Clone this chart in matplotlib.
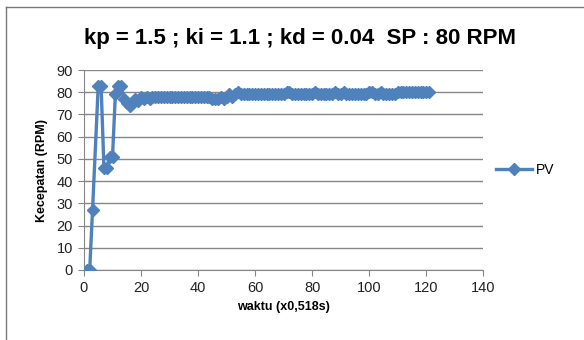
import matplotlib
matplotlib.use("Agg")
import matplotlib.pyplot as plt
from matplotlib.lines import Line2D

plt.rcParams["font.family"] = ["Liberation Sans", "DejaVu Sans"]

# waktu (sampel) dan kecepatan PV (RPM)
waktu = [1, 2, 3] + list(range(5, 122))
pv = [
    0, 0, 27, 83, 83, 46, 46, 51, 51, 79,
    83, 83, 77, 75, 74, 75, 77, 76, 78, 77,
    78, 77, 78, 78, 78, 78, 78, 78, 78, 78,
    78, 78, 78, 78, 78, 78, 78, 78, 78, 78,
    78, 78, 78, 77, 77, 77, 78, 77, 78, 79,
    78, 79, 80, 79, 79, 79, 79, 79, 79, 79,
    79, 79, 79, 79, 79, 79, 79, 79, 79, 80,
    80, 79, 79, 79, 79, 79, 79, 79, 79, 80,
    79, 79, 79, 79, 79, 79, 80, 79, 79, 80,
    79, 79, 79, 79, 79, 79, 79, 79, 80, 80,
    79, 79, 80, 79, 79, 79, 79, 79, 80, 80,
    80, 80, 80, 80, 80, 80, 80, 80, 80, 80,
]

judul = "kp = 1.5 ; ki = 1.1 ; kd = 0.04  SP : 80 RPM"
biru = "#4F81BD"
abu = "#868686"

fig = plt.figure(figsize=(5.84, 3.40), dpi=100)
ax = fig.add_axes([0.1438, 0.2059, 0.6838, 0.5882])

ax.plot(waktu, pv, color=biru, lw=2.4, marker="D", ms=6.5,
        mec=biru, mfc=biru, label="PV", zorder=3)

ax.set_xlim(0, 140)
ax.set_ylim(0, 90)
ax.set_xticks(range(0, 141, 20))
ax.set_yticks(range(0, 91, 10))
ax.grid(axis="y", color=abu, lw=1)
ax.set_axisbelow(True)
for s in ["top", "right"]:
    ax.spines[s].set_visible(False)
for s in ["left", "bottom"]:
    ax.spines[s].set_color(abu)
ax.tick_params(direction="out", length=4, color=abu, labelsize=10.5,
               labelcolor="#222222", pad=4)

ax.set_xlabel("waktu (x0,518s)", fontsize=9, fontweight="bold", labelpad=4)
ax.set_ylabel("Kecepatan (RPM)", fontsize=9, fontweight="bold", labelpad=6)

fig.text(0.513, 0.887, judul, ha="center", va="center",
         fontsize=16, fontweight="bold")

leg = ax.legend(loc="center left", bbox_to_anchor=(1.0, 0.5),
                frameon=False, fontsize=10, handlelength=2.6,
                handletextpad=0.3)

# garis tepi chart (atas dan kiri)
fig.add_artist(Line2D([6 / 584, 1], [1 - 7 / 340, 1 - 7 / 340],
                      transform=fig.transFigure, color="#777777", lw=1))
fig.add_artist(Line2D([6 / 584, 6 / 584], [0, 1 - 7 / 340],
                      transform=fig.transFigure, color="#777777", lw=1))

fig.savefig("out.png", dpi=100)
